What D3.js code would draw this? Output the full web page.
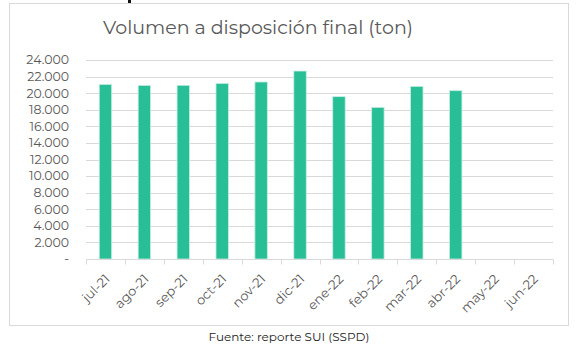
<!DOCTYPE html>
<html>
<head>
<meta charset="utf-8">
<script src="https://cdn.jsdelivr.net/npm/d3@7"></script>
<style>
  body { margin: 0; background: #fff; }
  svg { display: block; font-family: Montserrat, "Open Sans", sans-serif; }
</style>
</head>
<body>
<svg id="chart" width="586" height="351"></svg>
<script>
// chart data
var months = ["jul-21", "ago-21", "sep-21", "oct-21", "nov-21", "dic-21",
              "ene-22", "feb-22", "mar-22", "abr-22", "may-22", "jun-22"];
var volumen = [21060, 20940, 20950, 21180, 21350, 22670,
               19580, 18290, 20820, 20300, null, null];
var yTicks = [0, 2000, 4000, 6000, 8000, 10000, 12000, 14000, 16000, 18000, 20000, 22000, 24000];

var svg = d3.select("#chart");
var margin = {left: 86, right: 33, top: 60, bottom: 92};
var W = 586, H = 351;

// outer frame
svg.append("rect")
    .attr("x", 9.5).attr("y", 3.5)
    .attr("width", 559).attr("height", 322)
    .attr("fill", "none").attr("stroke", "#d9d9d9");

// fragment of text above the frame
svg.append("rect").attr("x", 128).attr("y", 0).attr("width", 3).attr("height", 3).attr("fill", "#111");

svg.append("text")
    .attr("x", 258).attr("y", 34)
    .attr("text-anchor", "middle")
    .attr("font-size", 19)
    .attr("fill", "#595959")
    .attr("textLength", 310)
    .attr("lengthAdjust", "spacingAndGlyphs")
    .text("Volumen a disposición final (ton)");

var x = d3.scaleBand()
    .domain(months)
    .range([margin.left, W - margin.right])
    .paddingInner(0.68).paddingOuter(0.34);

var y = d3.scaleLinear()
    .domain([0, 24000])
    .range([H - margin.bottom, margin.top]);

// gridlines
svg.append("g").selectAll("line")
    .data(yTicks.filter(function(d){ return d > 0; }))
    .enter().append("line")
    .attr("x1", margin.left).attr("x2", W - margin.right)
    .attr("y1", function(d){ return Math.round(y(d)) + 0.5; })
    .attr("y2", function(d){ return Math.round(y(d)) + 0.5; })
    .attr("stroke", "#d9d9d9");

// y labels
var fmt = function(d){ return d === 0 ? "-" : d3.format(",")(d).replace(/,/g, "."); };
svg.append("g").selectAll("text")
    .data(yTicks)
    .enter().append("text")
    .attr("x", 69)
    .attr("y", function(d){ return y(d); })
    .attr("dy", "0.35em")
    .attr("text-anchor", "end")
    .attr("font-size", 12.5)
    .attr("fill", "#595959")
    .text(fmt);

// bars
svg.append("g").selectAll("rect")
    .data(months.map(function(m, i){ return {m: m, v: volumen[i]}; })
          .filter(function(d){ return d.v != null; }))
    .enter().append("rect")
    .attr("x", function(d){ return x(d.m); })
    .attr("width", x.bandwidth())
    .attr("y", function(d){ return y(d.v); })
    .attr("height", function(d){ return y(0) - y(d.v); })
    .attr("fill", "#28bf97")
    .attr("stroke", "#c8eee2")
    .attr("stroke-width", 0.8);

// x axis
var base = Math.round(y(0)) + 0.5;
var ax = svg.append("g");
ax.append("line")
    .attr("x1", margin.left).attr("x2", W - margin.right)
    .attr("y1", base).attr("y2", base)
    .attr("stroke", "#d9d9d9");
ax.selectAll(".tk")
    .data(d3.range(months.length + 1))
    .enter().append("line")
    .attr("x1", function(i){ return Math.round(margin.left + i * (W - margin.left - margin.right) / months.length) + 0.5; })
    .attr("x2", function(i){ return Math.round(margin.left + i * (W - margin.left - margin.right) / months.length) + 0.5; })
    .attr("y1", base).attr("y2", base + 5)
    .attr("stroke", "#d9d9d9");

ax.selectAll("text")
    .data(months)
    .enter().append("text")
    .attr("transform", function(d){
        return "translate(" + (x(d) + x.bandwidth() / 2 + 2) + "," + (base + 17) + ") rotate(-45)";
    })
    .attr("text-anchor", "end")
    .attr("dy", "0.35em")
    .attr("font-size", 13)
    .attr("fill", "#595959")
    .text(function(d){ return d; });

// source
svg.append("text")
    .attr("x", 289).attr("y", 341)
    .attr("text-anchor", "middle")
    .attr("font-size", 12)
    .attr("fill", "#222")
    .text("Fuente: reporte SUI (SSPD)");
</script>
</body>
</html>
